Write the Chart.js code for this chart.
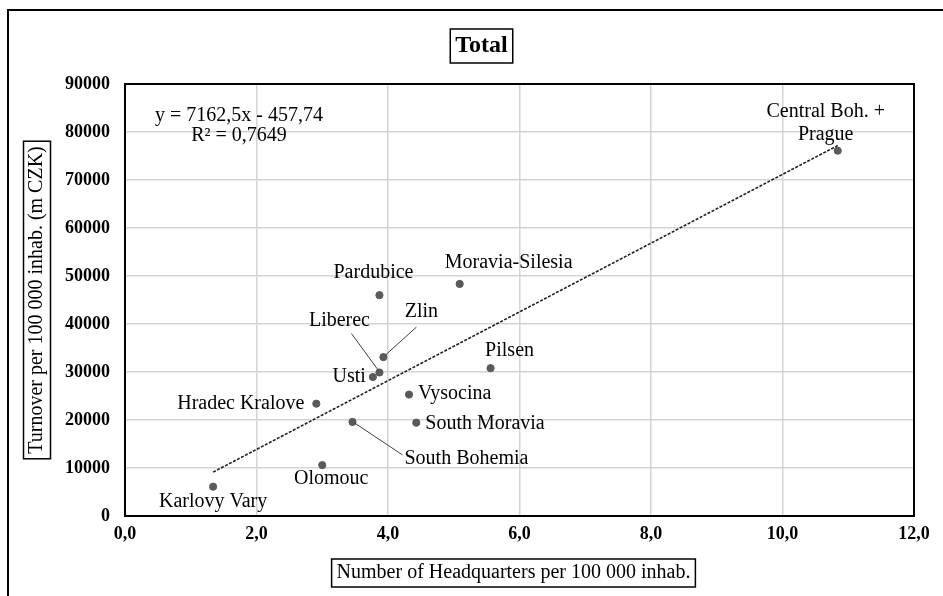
<!DOCTYPE html>
<html>
<head>
<meta charset="utf-8">
<script src="https://cdn.jsdelivr.net/npm/chart.js@4.4.1/dist/chart.umd.min.js"></script>
<style>
  html, body { margin: 0; padding: 0; background: #fff; }
  #wrap { width: 943px; height: 596px; position: relative; }
</style>
</head>
<body>
<div id="wrap"><canvas id="chart" width="943" height="596"></canvas></div>
<script>
// regions and values
const regions = [
  "Karlovy Vary", "Olomouc", "Hradec Kralove", "South Bohemia", "Usti",
  "Liberec", "Pardubice", "Zlin", "Vysocina", "South Moravia",
  "Moravia-Silesia", "Pilsen", "Central Boh. +\nPrague"
];
const hqPer100k = [1.34, 3.00, 2.91, 3.46, 3.77, 3.87, 3.87, 3.93, 4.32, 4.43, 5.09, 5.56, 10.84];
const turnover = [6100, 10600, 23400, 19600, 28950, 29900, 46000, 33100, 25300, 19450, 48350, 30800, 76100];

const slope = 7162.5;
const intercept = -457.74;
const r2 = "0,7649";

const xTicks = [0, 2, 4, 6, 8, 10, 12];
const yMax = 90000;
const yStep = 10000;

// label placement relative to each point (pixels), same order as regions
const labelPos = [
  { dx: 0, dy: 15, align: "center" },
  { dx: 9, dy: 14, align: "center" },
  { dx: -12, dy: 0, align: "right" },
  { dx: 52, dy: 37, align: "left", lead: [2, 1, 50, 33] },
  { dx: -7, dy: 0, align: "right" },
  { dx: -40, dy: -52, align: "center", lead: [-28, -39, -1, -2] },
  { dx: -6, dy: -22, align: "center" },
  { dx: 38, dy: -45, align: "center", lead: [33, -30, 2, -2] },
  { dx: 9, dy: -1, align: "left" },
  { dx: 9, dy: 1, align: "left" },
  { dx: 49, dy: -21, align: "center" },
  { dx: 19, dy: -17, align: "center" },
  { dx: -12, dy: -39, align: "center" }
];

const serif = "'Liberation Serif', 'Times New Roman', serif";

const points = hqPer100k.map((x, i) => ({ x: x, y: turnover[i] }));
const xMin = Math.min(...hqPer100k);
const xMaxPt = Math.max(...hqPer100k);
const trend = [xMin, xMaxPt].map(x => ({ x: x, y: slope * x + intercept }));

function boxedText(ctx, text, cx, cy, font, padX, padY, h) {
  ctx.font = font;
  const w = ctx.measureText(text).width;
  ctx.fillStyle = "#000";
  ctx.textAlign = "center";
  ctx.textBaseline = "middle";
  ctx.fillText(text, cx, cy);
  ctx.lineWidth = 1.5;
  ctx.strokeStyle = "#000";
  ctx.strokeRect(cx - w / 2 - padX, cy - h / 2 - padY, w + padX * 2, h + padY * 2);
}

const decorPlugin = {
  id: "decor",
  beforeDraw(chart) {
    const ctx = chart.ctx;
    ctx.save();
    ctx.fillStyle = "#fff";
    ctx.fillRect(0, 0, chart.width, chart.height);
    // outer frame
    ctx.strokeStyle = "#000";
    ctx.lineWidth = 2;
    ctx.beginPath();
    ctx.moveTo(8, chart.height + 5);
    ctx.lineTo(8, 10);
    ctx.lineTo(chart.width + 5, 10);
    ctx.stroke();
    ctx.restore();
  },
  afterDraw(chart) {
    const ctx = chart.ctx;
    const a = chart.chartArea;
    ctx.save();
    // plot frame
    ctx.strokeStyle = "#000";
    ctx.lineWidth = 2;
    ctx.strokeRect(a.left, a.top, a.right - a.left, a.bottom - a.top);

    // chart title
    boxedText(ctx, "Total", (a.left + a.right) / 2 - 38, 46, "bold 24px " + serif, 5, 4, 26);
    // x axis title
    boxedText(ctx, "Number of Headquarters per 100 000 inhab.", (a.left + a.right) / 2 - 6, 573,
      "20px " + serif, 5, 3, 22);
    // y axis title
    ctx.save();
    ctx.translate(37, (a.top + a.bottom) / 2);
    ctx.rotate(-Math.PI / 2);
    boxedText(ctx, "Turnover per 100 000 inhab. (m CZK)", 0, 0, "20px " + serif, 5, 5, 17);
    ctx.restore();

    // trend equation
    ctx.font = "20px " + serif;
    ctx.fillStyle = "#000";
    ctx.textBaseline = "middle";
    ctx.textAlign = "center";
    const eq = "y = " + String(slope).replace(".", ",") + "x - " + String(-intercept).replace(".", ",");
    ctx.fillText(eq, a.left + 114, a.top + 32);
    ctx.fillText("R\u00b2 = " + r2, a.left + 114, a.top + 52);

    // point labels with leader lines
    const meta = chart.getDatasetMeta(0);
    meta.data.forEach((el, i) => {
      const p = labelPos[i];
      if (p.lead) {
        ctx.strokeStyle = "#404040";
        ctx.lineWidth = 1;
        ctx.beginPath();
        ctx.moveTo(el.x + p.lead[0], el.y + p.lead[1]);
        ctx.lineTo(el.x + p.lead[2], el.y + p.lead[3]);
        ctx.stroke();
      }
      ctx.fillStyle = "#000";
      ctx.textAlign = p.align;
      const lines = regions[i].split("\n");
      lines.forEach((t, k) => ctx.fillText(t, el.x + p.dx, el.y + p.dy + k * 23));
    });
    ctx.restore();
  }
};

new Chart(document.getElementById("chart"), {
  type: "scatter",
  data: {
    datasets: [
      {
        label: "Regions",
        data: points,
        backgroundColor: "#5a5a5a",
        borderColor: "#5a5a5a",
        pointRadius: 3.6,
        order: 1
      },
      {
        type: "line",
        label: "Trend",
        data: trend,
        showLine: true,
        borderColor: "#222",
        borderWidth: 1.6,
        borderDash: [3, 1.5],
        pointRadius: 0,
        fill: false,
        order: 2
      }
    ]
  },
  options: {
    responsive: false,
    animation: false,
    devicePixelRatio: 1,
    layout: { padding: { left: 65, top: 84, right: 29, bottom: 40 } },
    plugins: {
      legend: { display: false },
      tooltip: { enabled: false }
    },
    scales: {
      x: {
        type: "linear",
        min: xTicks[0],
        max: xTicks[xTicks.length - 1],
        afterBuildTicks: s => { s.ticks = xTicks.map(v => ({ value: v })); },
        afterFit: s => { s.height = 40; },
        grid: { color: "#d4d4d4", lineWidth: 1.5, drawTicks: false },
        border: { display: false },
        ticks: {
          padding: 8,
          color: "#000",
          font: { family: serif, size: 18, weight: "bold" },
          callback: v => v.toFixed(1).replace(".", ",")
        }
      },
      y: {
        type: "linear",
        min: 0,
        max: yMax,
        ticks: {
          stepSize: yStep,
          padding: 15,
          color: "#000",
          font: { family: serif, size: 18, weight: "bold" },
          callback: v => String(v)
        },
        afterFit: s => { s.width = 60; },
        grid: { color: "#d4d4d4", lineWidth: 1.5, drawTicks: false },
        border: { display: false }
      }
    }
  },
  plugins: [decorPlugin]
});
</script>
</body>
</html>
